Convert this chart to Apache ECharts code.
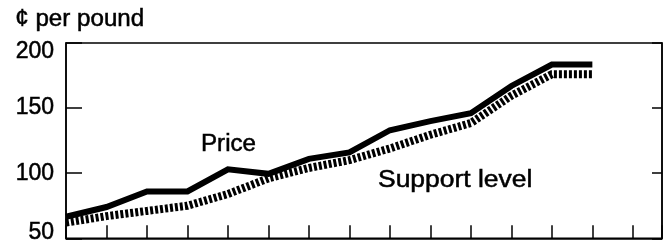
<!DOCTYPE html>
<html>
<head>
<meta charset="utf-8">
<script src="https://cdn.jsdelivr.net/npm/echarts@6/dist/echarts.min.js"></script>
<style>
  html, body { margin: 0; padding: 0; background: #fff; }
  #chart { width: 666px; height: 244px; }
</style>
</head>
<body>
<div id="chart"></div>
<script>
  // periods along the x axis (one tick each)
  var periods = [0, 1, 2, 3, 4, 5, 6, 7, 8, 9, 10, 11, 12, 13];
  // cents per pound
  var price = [66.5, 74, 86, 86, 103, 99.5, 111, 116, 133, 140, 146, 167, 183.5, 183.5];
  var support = [62, 67, 71, 75, 84, 96, 104, 110, 119, 129.5, 138.5, 159.5, 176, 176];
  var yTicks = [50, 100, 150, 200];

  var font = 'Liberation Sans, Arial, Helvetica, sans-serif';

  function pairs(values) {
    return periods.map(function (p, i) { return [p, values[i]]; });
  }

  var labelStyle = {
    fontFamily: font,
    fontSize: 23,
    color: '#000',
    textBorderColor: '#000',
    textBorderWidth: 0.5
  };

  var chart = echarts.init(document.getElementById('chart'));
  var option = {
    animation: false,
    grid: {
      left: 66,
      right: 4,
      top: 43,
      bottom: 1,
      show: true,
      borderColor: '#000',
      borderWidth: 1.5
    },
    xAxis: {
      type: 'value',
      min: 0,
      max: 14.72,
      interval: 1,
      axisLine: { lineStyle: { color: '#000', width: 1.5 } },
      axisTick: { inside: true, length: 13, lineStyle: { color: '#000', width: 1.5 } },
      axisLabel: { show: false },
      splitLine: { show: false }
    },
    yAxis: [{
      type: 'value',
      min: yTicks[0],
      max: yTicks[yTicks.length - 1],
      interval: 50,
      axisLine: { show: true, lineStyle: { color: '#000', width: 1.5 } },
      axisTick: { show: true, inside: true, length: 16, lineStyle: { color: '#000', width: 1.5 } },
      axisLabel: Object.assign({
        margin: 12,
        formatter: function (v) {
          if (v === 200) return '{top|' + v + '}';
          if (v === 50) return '{bot|' + v + '}';
          return v;
        },
        rich: {
          top: Object.assign({ padding: [18, 0, 0, 0] }, labelStyle),
          bot: Object.assign({ padding: [0, 0, 12, 0] }, labelStyle)
        }
      }, labelStyle),
      splitLine: { show: false }
    }, {
      type: 'value',
      position: 'right',
      min: yTicks[0],
      max: yTicks[yTicks.length - 1],
      interval: 50,
      axisLine: { show: true, lineStyle: { color: '#000', width: 1.5 } },
      axisTick: { show: true, inside: true, length: 10, lineStyle: { color: '#000', width: 1.5 } },
      axisLabel: { show: false },
      splitLine: { show: false }
    }],
    series: [{
      name: 'Support level',
      type: 'line',
      data: pairs(support),
      symbol: 'none',
      z: 2,
      lineStyle: { color: '#000', width: 8, type: [3, 2], cap: 'butt', join: 'miter' }
    }, {
      name: 'Price',
      type: 'line',
      data: pairs(price),
      symbol: 'none',
      z: 3,
      lineStyle: { color: '#000', width: 6, cap: 'butt', join: 'miter' }
    }],
    graphic: [{
      type: 'text',
      left: 15,
      top: 8,
      scaleX: 1.05,
      style: { text: '¢ per pound', font: '23px ' + font, fill: '#000', stroke: '#000', lineWidth: 0.5 }
    }, {
      type: 'text',
      x: 201,
      y: 145,
      scaleX: 1.05,
      style: { text: 'Price', font: '23px ' + font, fill: '#000', stroke: '#000', lineWidth: 0.5, verticalAlign: 'middle' }
    }, {
      type: 'text',
      x: 378,
      y: 181,
      scaleX: 1.15,
      style: { text: 'Support level', font: '23px ' + font, fill: '#000', stroke: '#000', lineWidth: 0.5, verticalAlign: 'middle' }
    }]
  };
  chart.setOption(option);
</script>
</body>
</html>
